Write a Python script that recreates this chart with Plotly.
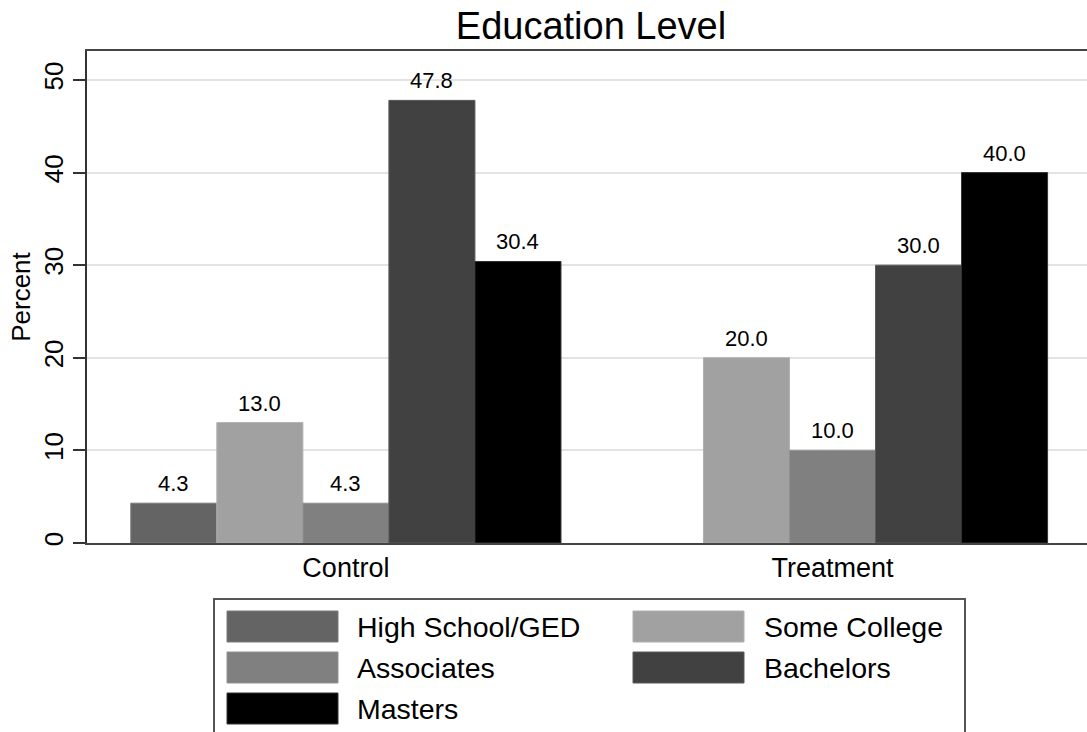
import plotly.graph_objects as go

# ---- data ----
groups = ["Control", "Treatment"]
series_names = ["High School/GED", "Some College", "Associates", "Bachelors", "Masters"]
high_school = [4.3, None]
some_college = [13.0, 20.0]
associates = [4.3, 10.0]
bachelors = [47.8, 30.0]
masters = [30.4, 40.0]
y_ticks = [0, 10, 20, 30, 40, 50]

series_values = [high_school, some_college, associates, bachelors, masters]
fills = ["#646464", "#a1a1a1", "#808080", "#414141", "#000000"]
edges = ["#7a7a7a", "#b0b0b0", "#929292", "#5a5a5a", "#333333"]

W, H = 1087, 732
L, R_EDGE, T, B = 87, 1087, 51, 543
pw, ph = R_EDGE - L, B - T

def px_x(p):
    return (p - L) / pw

def px_y(p):
    return (B - p) / ph

FONT = "Liberation Sans, Arial, Helvetica, sans-serif"
bargap = 0.116
n = len(series_names)
bw = (1 - bargap) / n
xpos = list(range(len(groups)))

fig = go.Figure()
for i, (name, vals) in enumerate(zip(series_names, series_values)):
    fig.add_trace(go.Bar(
        name=name, x=xpos, y=vals,
        marker=dict(color=fills[i], line=dict(color=edges[i], width=1)),
        showlegend=False,
    ))

annotations = []
for i, vals in enumerate(series_values):
    for g, v in enumerate(vals):
        if v is None:
            continue
        annotations.append(dict(
            x=g + (i - (n - 1) / 2) * bw, y=v, xref="x", yref="y",
            text=f"{v:.1f}", showarrow=False, yanchor="bottom", xanchor="center",
            yshift=5, font=dict(size=22, color="black", family=FONT),
        ))

# manual legend (Stata style)
shapes = [dict(type="rect", xref="paper", yref="paper",
               x0=px_x(214), x1=px_x(965), y0=px_y(599), y1=px_y(770),
               line=dict(color="#555555", width=2), fillcolor="white", layer="above")]
col_sw = [227, 633]
col_tx = [355, 762]
row_top = [611, 652, 693]
for k, name in enumerate(series_names):
    r, c = divmod(k, 2)
    y0 = row_top[r]
    shapes.append(dict(type="rect", xref="paper", yref="paper",
                       x0=px_x(col_sw[c]), x1=px_x(col_sw[c] + 111),
                       y0=px_y(y0 + 31), y1=px_y(y0),
                       fillcolor=fills[k], line=dict(color=edges[k], width=1), layer="above"))
    annotations.append(dict(x=px_x(col_tx[c]), y=px_y(y0 + 15.5), xref="paper", yref="paper",
                            text=name, showarrow=False, xanchor="left", yanchor="middle",
                            font=dict(size=28.5, color="black", family=FONT)))

fig.update_layout(
    width=W, height=H,
    margin=dict(l=L, r=W - R_EDGE, t=T, b=H - B, pad=0, autoexpand=False),
    paper_bgcolor="white", plot_bgcolor="white",
    barmode="group", bargap=bargap, bargroupgap=0,
    title=dict(text="Education Level", x=591 / W, xanchor="center",
               y=1 - 26 / H, yanchor="middle", yref="container",
               font=dict(size=38, color="black", family=FONT)),
    font=dict(family=FONT, color="black"),
    xaxis=dict(range=[-0.532, 1.523], tickvals=xpos, ticktext=groups,
               showgrid=False, zeroline=False, ticks="",
               showline=True, linecolor="#444444", linewidth=2, mirror=True,
               tickfont=dict(size=27, color="black", family=FONT)),
    yaxis=dict(range=[0, 53.13], tickvals=y_ticks, tickangle=-90,
               showgrid=True, gridcolor="#e3e3e3", gridwidth=2, zeroline=False,
               ticks="outside", ticklen=12, tickwidth=1.5, tickcolor="#333333",
               showline=True, linecolor="#333333", linewidth=2,
               tickfont=dict(size=26, color="black", family=FONT),
               title=dict(text="Percent", font=dict(size=26, color="black", family=FONT), standoff=0)),
    shapes=shapes, annotations=annotations,
)

fig.write_html("out.html",
               config={"displayModeBar": False},
               post_script="document.body.style.margin='0';document.body.style.overflow='hidden';")
